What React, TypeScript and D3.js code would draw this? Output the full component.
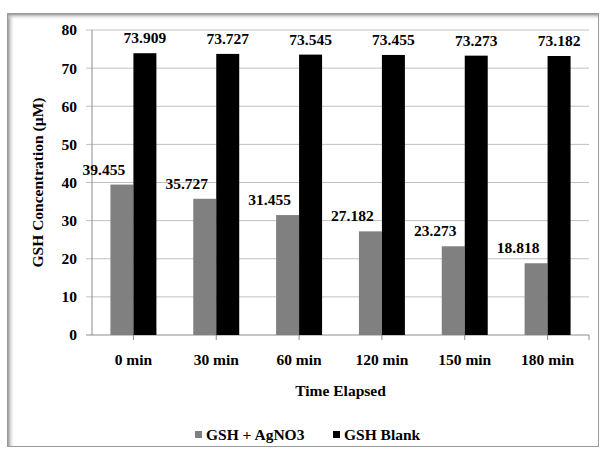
import React from "react";
import * as d3 from "d3";

const categories = ["0 min", "30 min", "60 min", "120 min", "150 min", "180 min"];
const seriesNames = ["GSH + AgNO3", "GSH Blank"];
const withAgNO3 = [39.455, 35.727, 31.455, 27.182, 23.273, 18.818];
const blank = [73.909, 73.727, 73.545, 73.455, 73.273, 73.182];
const yTicks = [0, 10, 20, 30, 40, 50, 60, 70, 80];

const colors = ["#808080", "#000000"];
// labels of the grey series sit a little to the left of their bars in the original
const labelShift = [-18, 0];

const W = 601;
const H = 451;
const left = 92;
const right = 589;
const top = 30;
const bottom = 335;
const font = "Liberation Serif, Times New Roman, serif";

export default function App() {
  const x = d3
    .scaleBand<string>()
    .domain(categories)
    .range([left, right])
    .paddingInner(0.445)
    .paddingOuter(0.2225);
  const inner = d3
    .scaleBand<number>()
    .domain([0, 1])
    .range([0, x.bandwidth()]);
  const y = d3.scaleLinear().domain([0, 80]).range([bottom, top]);

  const series = [withAgNO3, blank];
  const txt = { fontFamily: font, fontWeight: 700, fontSize: 15.5 } as React.CSSProperties;

  return (
    <svg
      width={W}
      height={H}
      style={{ position: "absolute", left: 0, top: 0, background: "#fff" }}
    >
      <defs>
        <linearGradient id="shL" x1="0" x2="1" y1="0" y2="0">
          <stop offset="0" stopColor="#9a9a9a" />
          <stop offset="1" stopColor="#ffffff" stopOpacity="0" />
        </linearGradient>
        <linearGradient id="shT" x1="0" x2="0" y1="0" y2="1">
          <stop offset="0" stopColor="#9a9a9a" />
          <stop offset="1" stopColor="#ffffff" stopOpacity="0" />
        </linearGradient>
      </defs>

      {/* frame with soft inner shadow */}
      <rect x={7.5} y={13.5} width={591} height={433} fill="#fff" stroke="#9a9a9a" />
      <rect x={8} y={14} width={7} height={432} fill="url(#shL)" />
      <rect x={8} y={14} width={590} height={6} fill="url(#shT)" />

      {/* gridlines + y ticks */}
      {yTicks.map((t) => (
        <g key={t}>
          <line
            x1={left - 6}
            x2={right}
            y1={y(t)}
            y2={y(t)}
            stroke={t === 0 ? "#8c8c8c" : "#c0c0c0"}
          />
          <text x={77} y={y(t)} dy="0.35em" textAnchor="end" style={txt}>
            {t}
          </text>
        </g>
      ))}
      <line x1={left} x2={left} y1={top} y2={bottom} stroke="#8c8c8c" />

      {/* bars */}
      {categories.map((c, i) =>
        series.map((vals, s) => (
          <rect
            key={c + s}
            x={(x(c) as number) + (inner(s) as number)}
            y={y(vals[i])}
            width={inner.bandwidth()}
            height={bottom - y(vals[i])}
            fill={colors[s]}
          />
        ))
      )}

      {/* value labels */}
      {categories.map((c, i) =>
        series.map((vals, s) => (
          <text
            key={"l" + c + s}
            x={(x(c) as number) + (inner(s) as number) + inner.bandwidth() / 2 + labelShift[s]}
            y={y(vals[i]) - 10}
            textAnchor="middle"
            style={txt}
          >
            {vals[i].toFixed(3)}
          </text>
        ))
      )}

      {/* x ticks + labels */}
      {categories.map((c) => {
        const cx = (x(c) as number) + x.bandwidth() / 2;
        return (
          <g key={"x" + c}>
            <line x1={cx} x2={cx} y1={bottom} y2={bottom + 5} stroke="#8c8c8c" />
            <text x={cx} y={365} textAnchor="middle" style={txt}>
              {c}
            </text>
          </g>
        );
      })}
      <line x1={right} x2={right} y1={bottom} y2={bottom + 5} stroke="#8c8c8c" />

      {/* axis titles */}
      <text x={(left + right) / 2} y={396} textAnchor="middle" style={txt}>
        Time Elapsed
      </text>
      <text
        transform={`translate(43, ${(top + bottom) / 2}) rotate(-90)`}
        textAnchor="middle"
        style={txt}
      >
        GSH Concentration (µM)
      </text>

      {/* legend */}
      {seriesNames.map((n, s) => {
        const lx = s === 0 ? 195 : 333;
        return (
          <g key={n}>
            <rect x={lx} y={431} width={7} height={7} fill={colors[s]} />
            <text x={lx + 11} y={440} style={txt}>
              {n}
            </text>
          </g>
        );
      })}
    </svg>
  );
}
